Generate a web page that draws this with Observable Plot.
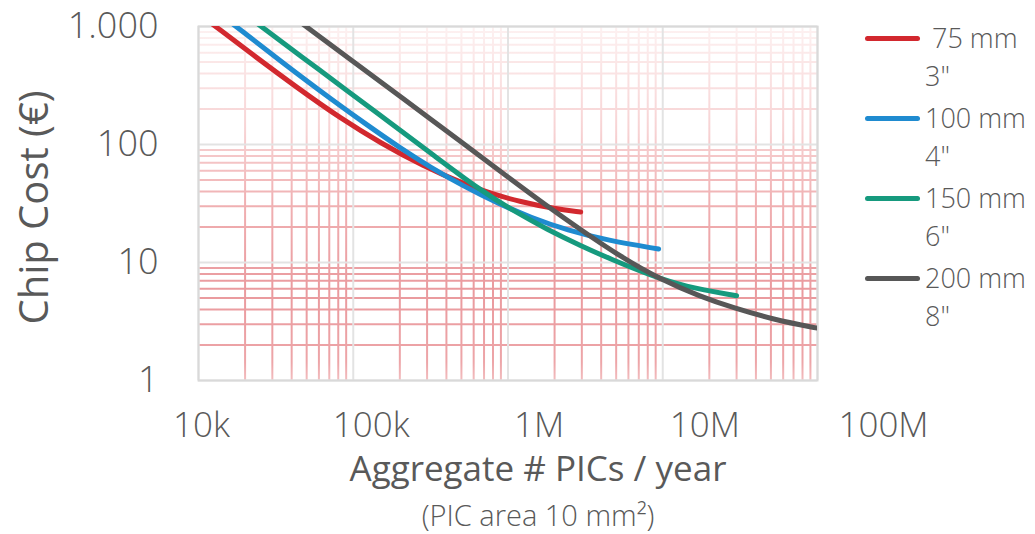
<!DOCTYPE html>
<html><head><meta charset="utf-8">
<script src="https://cdn.jsdelivr.net/npm/d3@7"></script>
<script src="https://cdn.jsdelivr.net/npm/@observablehq/plot@0.6"></script>
<style>
body{margin:0;background:#fff;}
#wrap{position:relative;width:1035px;height:534px;font-family:"Open Sans",sans-serif;color:#595959;}
#legend{position:absolute;left:865px;top:19px;}
.item{display:flex;align-items:flex-start;height:80px;}
.sw{width:55px;height:5px;border-radius:3px;margin-top:17px;margin-right:5px;flex:none;}
.lab{font-size:27px;line-height:38px;white-space:pre;font-weight:300;}
</style></head><body><div id="wrap"><div id="legend"></div></div>
<script>
const xTicks = [1e4, 1e5, 1e6, 1e7, 1e8];
const xTickLabels = ["10k", "100k", "1M", "10M", "100M"];
const yTicks = [1, 10, 100, 1000];
const yTickLabels = ["1", "10", "100", "1.000"];
const seriesNames = [" 75 mm\n3\"", "100 mm\n4\"", "150 mm\n6\"", "200 mm\n8\""];
const seriesColors = ["#d2282e", "#1f8bd0", "#169a7e", "#575757"];
const yLabel = "Chip Cost (€)";
const xLabel = "Aggregate # PICs / year";
const xSubLabel = "(PIC area 10 mm²)";

const wafer75 = [[11700,1100],[12900,1000],[21700,595],[45600,289],[82700,167],[150000,103],[284000,65.6],[516000,46.5],[771000,38.5],[1200000,32.7],[1970000,28.6],[2950000,26.8]];
const wafer100 = [[15900,1100],[17500,1000],[35400,487],[74500,234],[124000,145],[202000,93],[316000,64],[516000,44.3],[855000,31.8],[1400000,24.1],[2430000,18.7],[4400000,15.4],[9400000,13.0]];
const wafer150 = [[23100,1100],[25400,1000],[45600,564],[96000,272],[150000,176],[202000,131],[316000,84.7],[664000,40.8],[1090000,27.3],[1800000,19.0],[2940000,13.9],[4590000,10.7],[8340000,7.79],[13600000,6.27],[30000000,5.23]];
const wafer200 = [[45000,1100],[49600,1000],[96000,525],[202000,254],[516000,101.6],[1080000,49.1],[1800000,29.9],[2940000,19.0],[5330000,11.2],[9670000,7.18],[17500000,5.15],[28700000,4.12],[52000000,3.29],[97000000,2.79],[110000000,2.72]];

// style constants (not data)
const xLabelShift = [3, 18, 31, 42, 66];
const ink = "#595959";

const seriesData = [wafer75, wafer100, wafer150, wafer200];
const rows = seriesData.flatMap((arr, i) => arr.map(([x, y]) => ({series: seriesNames[i], x, y})));

const isPow10 = v => Math.abs(Math.log10(v) - Math.round(Math.log10(v))) < 1e-9;
const xMinor = d3.scaleLog().domain([1e4, 1e8]).ticks().filter(v => !isPow10(v));
const yMinor = d3.scaleLog().domain([1, 1000]).ticks().filter(v => !isPow10(v));

const plot = Plot.plot({
  width: 1035,
  height: 534,
  marginLeft: 198,
  marginRight: 218,
  marginTop: 26,
  marginBottom: 154,
  style: {background: "#fff", color: ink, fontFamily: "'Open Sans', sans-serif", overflow: "visible"},
  x: {type: "log", domain: [1e4, 1e8], axis: null},
  y: {type: "log", domain: [1, 1000], axis: null},
  color: {domain: seriesNames, range: seriesColors},
  marks: [
    Plot.ruleX(xMinor, {stroke: "url(#gridGrad)", strokeWidth: 2}),
    Plot.ruleY(yMinor, {stroke: "url(#gridGrad)", strokeWidth: 2}),
    Plot.ruleX(xTicks, {stroke: "#e3e3e3", strokeWidth: 2}),
    Plot.ruleY(yTicks, {stroke: "#e3e3e3", strokeWidth: 2}),
    Plot.frame({stroke: "#d9d9d9", strokeWidth: 2}),
    Plot.line(rows, {x: "x", y: "y", z: "series", stroke: "series", strokeWidth: 5, strokeLinecap: "round", curve: "basis", clip: true}),
    Plot.axisY(yTicks, {tickSize: 0, tickPadding: 40, tickFormat: (d) => yTickLabels[yTicks.indexOf(d)], fontSize: 36, fontWeight: 300, fill: ink, label: null}),
    ...xTicks.map((t, i) => Plot.axisX([t], {tickSize: 0, tickPadding: 32, tickFormat: () => xTickLabels[i], dx: xLabelShift[i], fontSize: 35, fontWeight: 300, fill: ink, label: null})),
    Plot.text([yLabel], {frameAnchor: "left", rotate: -90, textAnchor: "middle", lineAnchor: "middle", dx: -163, dy: 4, fontSize: 40, fill: ink}),
    Plot.text([xLabel], {frameAnchor: "bottom", textAnchor: "middle", lineAnchor: "middle", dx: 30, dy: 89, fontSize: 35, fill: ink}),
    Plot.text([xSubLabel], {frameAnchor: "bottom", textAnchor: "middle", lineAnchor: "middle", dx: 30, dy: 136, fontSize: 29, fontWeight: 300, fill: ink})
  ]
});

const ys = plot.scale("y");
const yTop = ys.apply(1000), yBot = ys.apply(1);
const defs = d3.select(plot).insert("defs", ":first-child");
const grad = defs.append("linearGradient").attr("id", "gridGrad")
  .attr("gradientUnits", "userSpaceOnUse").attr("x1", 0).attr("x2", 0).attr("y1", yTop).attr("y2", yBot);
[[0, "#fdf1f1"], [0.3, "#f7d2d3"], [0.5, "#f0b0b2"], [0.75, "#ea9a9e"], [0.95, "#eda5a8"], [1, "#f2bdbf"]]
  .forEach(([o, c]) => grad.append("stop").attr("offset", o).attr("stop-color", c));

document.getElementById("wrap").prepend(plot);

const legend = d3.select("#legend");
seriesNames.forEach((name, i) => {
  const item = legend.append("div").attr("class", "item");
  item.append("div").attr("class", "sw").style("background", seriesColors[i]);
  item.append("div").attr("class", "lab").text(name);
});
</script></body></html>
